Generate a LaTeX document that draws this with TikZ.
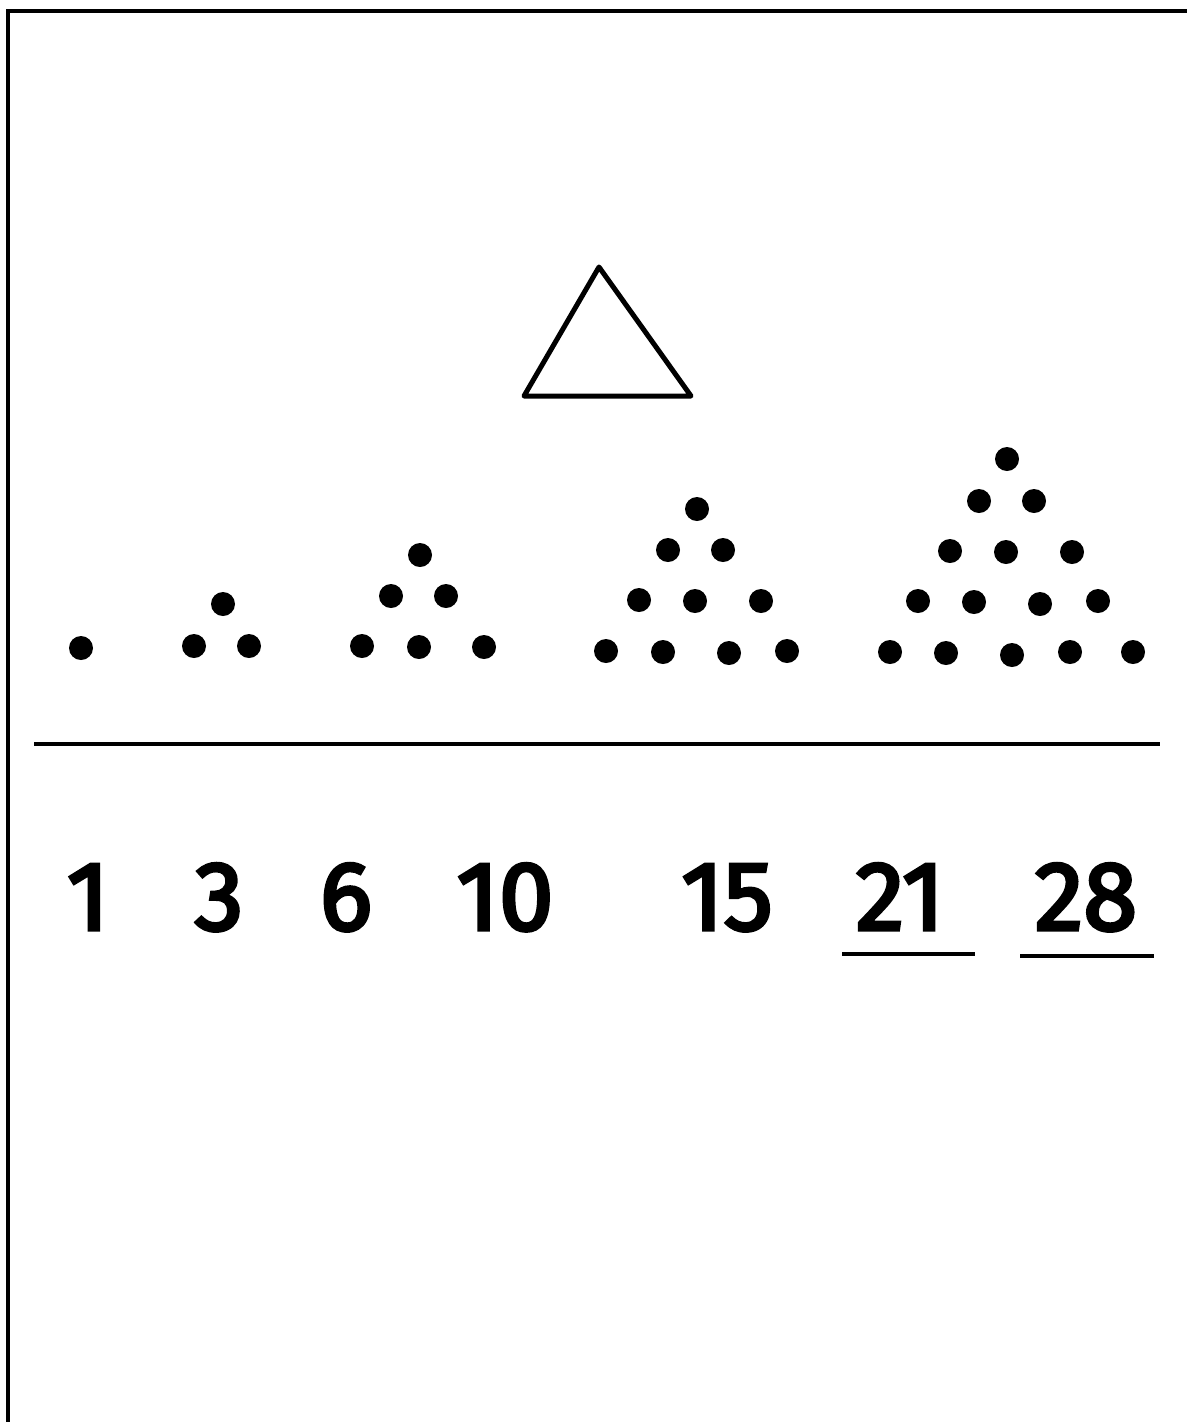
\documentclass[tikz,border=0pt]{standalone}
\usepackage{fontspec}
\setmainfont{Fira Sans}
\newfontfamily\numfont{Fira Sans}[FakeBold=3.5]
\begin{document}
\begin{tikzpicture}[x=1pt,y=-1pt,
  dot/.style={circle,fill=black,draw=none,minimum size=24pt,inner sep=0pt},
  numlbl/.style={anchor=base,inner sep=0pt,font=\fontsize{98}{100}\numfont},
  thick line/.style={line width=4pt}]
\useasboundingbox (0,0) rectangle (1187,1422);
\fill[white] (0,0) rectangle (1187,1422);
% frame (left and top edges)
\coordinate (fbl) at (8,1422);
\coordinate (ftl) at (8,10.5);
\coordinate (ftr) at (1187,10.5);
\draw[thick line] (fbl) -- (ftl) -- (ftr);
% triangle
\coordinate (ta) at (599,267);
\coordinate (tl) at (524,396);
\coordinate (tr) at (691,396);
\draw[line width=5pt,line join=round] (ta) -- (tl) -- (tr) -- cycle;
% dots: 1
\node[dot] (a1) at (81,648) {};
% 3
\node[dot] (b1) at (223,604) {};
\node[dot] (b2) at (194,646) {};
\node[dot] (b3) at (249,646) {};
% 6
\node[dot] (c1) at (420,555) {};
\node[dot] (c2) at (391,596) {};
\node[dot] (c3) at (446,596) {};
\node[dot] (c4) at (362,646) {};
\node[dot] (c5) at (419,647) {};
\node[dot] (c6) at (484,647) {};
% 10
\node[dot] (e1) at (697,509) {};
\node[dot] (e2) at (668,550) {};
\node[dot] (e3) at (723,550) {};
\node[dot] (e4) at (639,600) {};
\node[dot] (e5) at (695,601) {};
\node[dot] (e6) at (761,601) {};
\node[dot] (e7) at (606,651) {};
\node[dot] (e8) at (663,652) {};
\node[dot] (e9) at (729,653) {};
\node[dot] (e10) at (787,651) {};
% 15
\node[dot] (f1) at (1007,459) {};
\node[dot] (f2) at (979,501) {};
\node[dot] (f3) at (1034,501) {};
\node[dot] (f4) at (950,551) {};
\node[dot] (f5) at (1006,552) {};
\node[dot] (f6) at (1072,552) {};
\node[dot] (f7) at (918,601) {};
\node[dot] (f8) at (974,602) {};
\node[dot] (f9) at (1040,604) {};
\node[dot] (f10) at (1098,601) {};
\node[dot] (f11) at (890,652) {};
\node[dot] (f12) at (946,653) {};
\node[dot] (f13) at (1012,655) {};
\node[dot] (f14) at (1070,652) {};
\node[dot] (f15) at (1133,652) {};
% horizontal rule
\coordinate (hl) at (34,744);
\coordinate (hr) at (1160,744);
\draw[thick line] (hl) -- (hr);
% numbers
\node[numlbl] (n1) at (88,930) {1};
\node[numlbl] (n3) at (219,930) {3};
\node[numlbl] (n6) at (346,930) {6};
\node[numlbl] (n10) at (505,930) {10};
\node[numlbl] (n15) at (727,930) {15};
\node[numlbl] (n21) at (900,930) {21};
\node[numlbl] (n28) at (1086,930) {28};
% answer underlines
\coordinate (u1l) at (842,954);
\coordinate (u1r) at (975,954);
\coordinate (u2l) at (1020,956);
\coordinate (u2r) at (1154,956);
\draw[thick line] (u1l) -- (u1r);
\draw[thick line] (u2l) -- (u2r);
\end{tikzpicture}
\end{document}
